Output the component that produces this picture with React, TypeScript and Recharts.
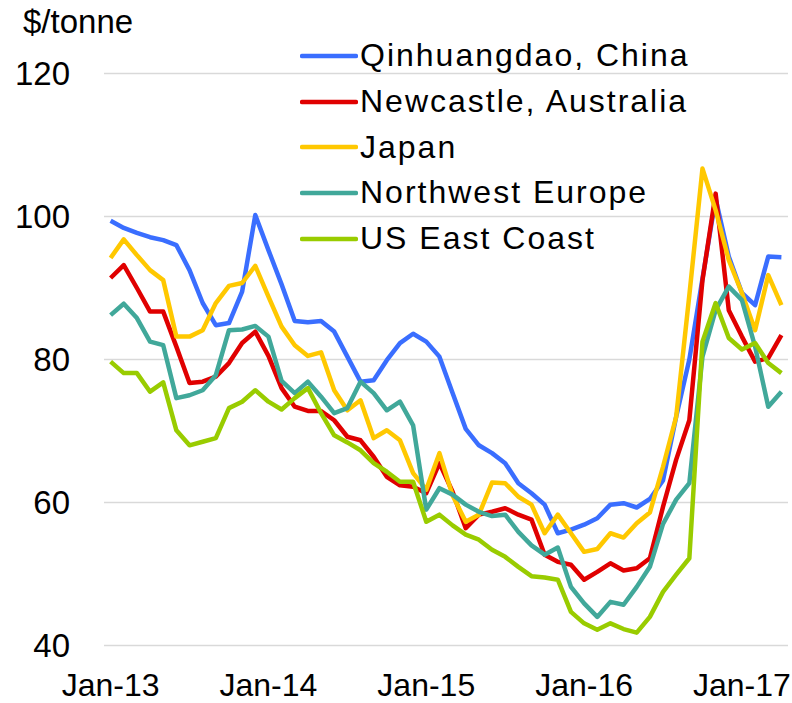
import { CartesianGrid, Legend, Line, LineChart, XAxis, YAxis } from "recharts";

const months = [
  "Jan-13", "Feb-13", "Mar-13", "Apr-13", "May-13", "Jun-13", "Jul-13", "Aug-13", "Sep-13", "Oct-13", "Nov-13", "Dec-13",
  "Jan-14", "Feb-14", "Mar-14", "Apr-14", "May-14", "Jun-14", "Jul-14", "Aug-14", "Sep-14", "Oct-14", "Nov-14", "Dec-14",
  "Jan-15", "Feb-15", "Mar-15", "Apr-15", "May-15", "Jun-15", "Jul-15", "Aug-15", "Sep-15", "Oct-15", "Nov-15", "Dec-15",
  "Jan-16", "Feb-16", "Mar-16", "Apr-16", "May-16", "Jun-16", "Jul-16", "Aug-16", "Sep-16", "Oct-16", "Nov-16", "Dec-16",
  "Jan-17", "Feb-17", "Mar-17", "Apr-17",
];

const qinhuangdao = [
  99.4, 98.4, 97.7, 97.1, 96.7, 96.0, 92.5, 87.9, 84.8, 85.1, 89.5, 100.2,
  95.3, 90.5, 85.4, 85.2, 85.4, 83.9, 80.4, 76.9, 77.1, 79.9, 82.3, 83.6,
  82.5, 80.4, 75.3, 70.3, 68.0, 66.9, 65.5, 62.7, 61.3, 59.7, 55.7, 56.2,
  56.9, 57.8, 59.7, 59.9, 59.3, 60.5, 63.1, 72.0, 80.0, 91.3, 102.5, 94.4,
  89.3, 87.6, 94.4, 94.3,
];

const newcastle = [
  91.4, 93.2, 90.0, 86.7, 86.7, 81.8, 76.7, 76.9, 77.6, 79.5, 82.3, 83.9,
  80.5, 76.0, 73.4, 72.8, 72.8, 71.5, 69.2, 68.7, 66.4, 63.6, 62.4, 62.2,
  61.3, 65.5, 61.5, 56.4, 58.3, 58.7, 59.2, 58.3, 57.6, 52.7, 51.7, 51.3,
  49.2, 50.3, 51.5, 50.5, 50.8, 52.2, 59.4, 66.0, 71.5, 91.1, 103.2, 86.9,
  83.2, 79.7, 80.2, 83.4,
];

const japan = [
  94.2, 96.8, 94.6, 92.5, 91.1, 83.2, 83.2, 84.1, 87.9, 90.3, 90.7, 93.1,
  88.8, 84.6, 82.0, 80.5, 81.0, 75.7, 72.9, 74.3, 69.0, 70.1, 68.7, 64.1,
  61.8, 66.9, 61.0, 57.3, 58.3, 62.8, 62.7, 60.8, 59.7, 55.7, 58.3, 55.7,
  53.1, 53.5, 55.7, 55.1, 57.1, 58.6, 65.0, 72.0, 89.0, 106.7, 100.9, 93.9,
  89.3, 84.1, 91.8, 87.6,
];

const northwestEurope = [
  86.2, 87.8, 85.8, 82.5, 82.0, 74.6, 75.0, 75.7, 77.8, 84.1, 84.2, 84.7,
  83.2, 77.0, 75.3, 76.9, 74.8, 72.5, 73.2, 76.9, 75.3, 72.9, 74.1, 70.8,
  59.0, 62.0, 61.1, 59.7, 58.7, 58.1, 58.3, 55.9, 54.0, 52.7, 53.7, 48.2,
  45.9, 44.0, 46.1, 45.7, 48.2, 51.0, 57.0, 60.4, 62.7, 80.4, 86.9, 90.2,
  88.3, 81.8, 73.4, 75.5,
];

const usEastCoast = [
  79.7, 78.1, 78.1, 75.5, 76.8, 70.1, 68.0, 68.5, 69.0, 73.2, 74.1, 75.7,
  74.1, 73.0, 74.6, 76.0, 72.5, 69.4, 68.4, 67.3, 65.5, 64.3, 62.9, 62.9,
  57.3, 58.3, 56.8, 55.5, 54.8, 53.4, 52.4, 51.0, 49.7, 49.5, 49.2, 44.7,
  43.1, 42.2, 43.1, 42.3, 41.8, 44.0, 47.5, 49.9, 52.2, 82.5, 87.9, 83.0,
  81.4, 82.3, 79.5, 78.1,
];

const yTicks = [40, 60, 80, 100, 120];

const series = [
  { key: "qinhuangdao", name: "Qinhuangdao, China", color: "#3A6EFF" },
  { key: "newcastle", name: "Newcastle, Australia", color: "#E00000" },
  { key: "japan", name: "Japan", color: "#FFC800" },
  { key: "northwestEurope", name: "Northwest Europe", color: "#41A89A" },
  { key: "usEastCoast", name: "US East Coast", color: "#99CC00" },
];

const data = months.map((month, i) => ({
  month,
  qinhuangdao: qinhuangdao[i],
  newcastle: newcastle[i],
  japan: japan[i],
  northwestEurope: northwestEurope[i],
  usEastCoast: usEastCoast[i],
}));

const FONT = '"Liberation Sans", Arial, sans-serif';

function LegendBox() {
  return (
    <div style={{ fontFamily: FONT, fontSize: 32, letterSpacing: 2, color: "#000" }}>
      {series.map((s) => (
        <div key={s.key} style={{ display: "flex", alignItems: "center", height: 45.7, whiteSpace: "nowrap" }}>
          <svg width={58} height={10} style={{ flex: "none" }}>
            <line x1={2} y1={5} x2={56} y2={5} stroke={s.color} strokeWidth={4.5} strokeLinecap="round" />
          </svg>
          <span style={{ marginLeft: 2 }}>{s.name}</span>
        </div>
      ))}
    </div>
  );
}

export default function App() {
  return (
    <div style={{ position: "absolute", left: 0, top: 0, width: 792, height: 703, background: "#fff", fontFamily: FONT }}>
      <div style={{ position: "absolute", left: 23, top: 5, fontSize: 33, lineHeight: "33px", color: "#000", zIndex: 2 }}>
        $/tonne
      </div>
      <LineChart width={792} height={703} data={data} margin={{ top: 73.5, right: 4, bottom: 0, left: 0 }}>
        <CartesianGrid vertical={false} stroke="#D9D9D9" strokeWidth={1.5} />
        <XAxis
          dataKey="month"
          interval={11}
          padding={{ left: 6.6, right: 6.6 }}
          axisLine={false}
          tickLine={false}
          tickSize={0}
          tickMargin={28}
          height={57.5}
          tick={{ fill: "#000", fontSize: 32, fontFamily: FONT }}
        />
        <YAxis
          domain={[40, 120]}
          ticks={yTicks}
          axisLine={false}
          tickLine={false}
          tickSize={0}
          tickMargin={34}
          width={104}
          tick={{ fill: "#000", fontSize: 33, fontFamily: FONT }}
        />
        <Legend
          layout="vertical"
          align="center"
          verticalAlign="middle"
          content={() => <LegendBox />}
          wrapperStyle={{ left: 300, top: 33, width: 420, height: 230 }}
        />
        {series.map((s) => (
          <Line
            key={s.key}
            type="linear"
            dataKey={s.key}
            name={s.name}
            stroke={s.color}
            strokeWidth={4.5}
            strokeLinejoin="round"
            dot={false}
            activeDot={false}
            isAnimationActive={false}
          />
        ))}
      </LineChart>
    </div>
  );
}
